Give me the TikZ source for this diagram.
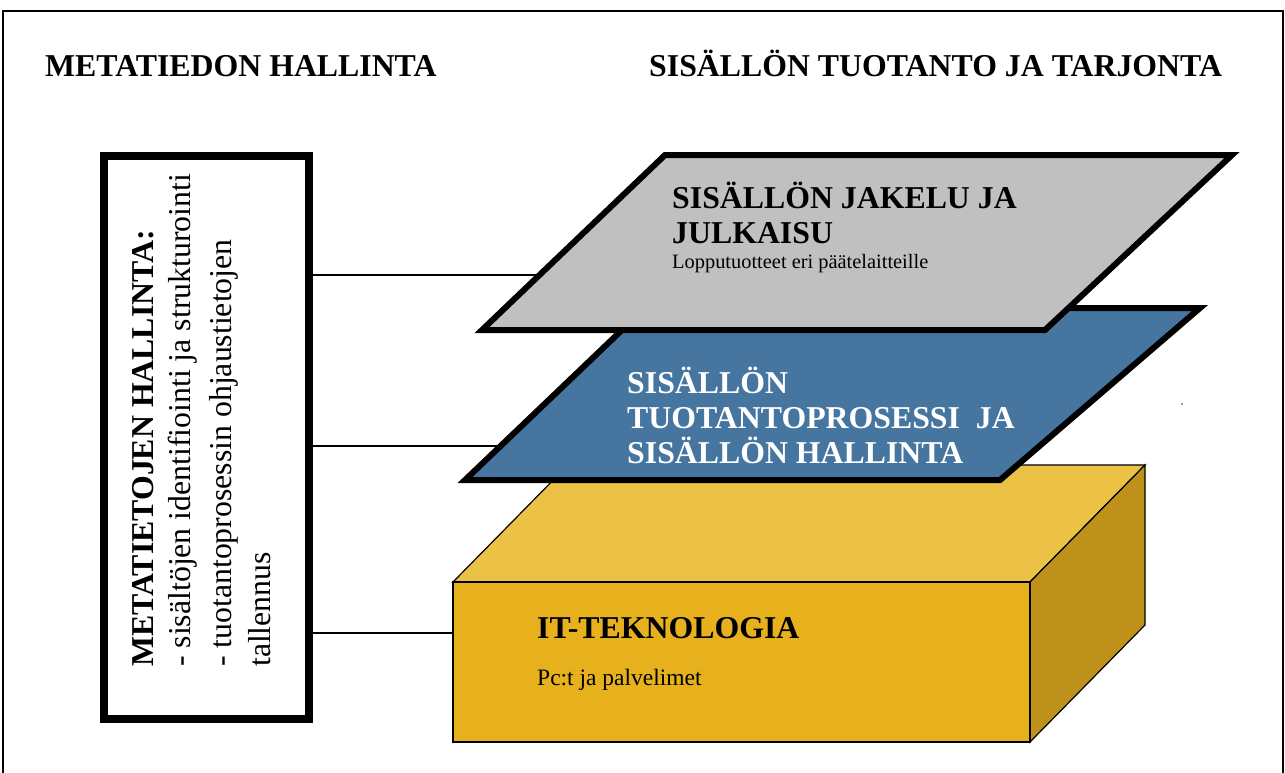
\documentclass[tikz,border=0pt]{standalone}
\usepackage{fontspec}
\setmainfont{Liberation Serif}
\begin{document}
\begin{tikzpicture}[x=1pt,y=-1pt,
  heading/.style={anchor=base west, inner sep=0pt, font=\fontsize{31.8}{35}\selectfont\bfseries},
  small/.style={anchor=base west, inner sep=0pt, font=\fontsize{20.4}{24}\selectfont},
  sidebold/.style={rotate=90, anchor=base west, inner sep=0pt, font=\fontsize{31.8}{35}\selectfont\bfseries},
  sidetext/.style={rotate=90, anchor=base west, inner sep=0pt, font=\fontsize{31.8}{35}\selectfont},
  layer/.style={line width=6pt, line join=miter},
  link/.style={line width=1.3pt}]
\useasboundingbox (0,0) rectangle (1285,772);
\clip (0,0) rectangle (1285,772);

% frame
\draw[line width=2pt] (3,11) rectangle (1283,790);

% column headings
\node[heading] (headL) at (45,76) {METATIEDON HALLINTA};
\node[heading] (headR) at (649,76) {SISÄLLÖN TUOTANTO JA TARJONTA};

% metadata management box
\node[draw, line width=8pt, minimum width=205pt, minimum height=563pt, inner sep=0pt] (meta) at (206.5,437.5) {};
\node[sidebold] (metaA) at (153,667) {METATIETOJEN HALLINTA:};
\node[sidetext] (metaB) at (190,667) {- sisältöjen identifiointi ja strukturointi};
\node[sidetext] (metaC) at (231,667) {- tuotantoprosessin ohjaustietojen};
\node[sidetext] (metaD) at (270,667) {tallennus};

% attachment points on the layers
\coordinate (jEdge) at (539.5,275);
\coordinate (pEdge) at (500.6,446);
\coordinate (iEdge) at (453,633);

% connectors
\draw[link] (meta.east |- jEdge) -- (jEdge);
\draw[link] (meta.east |- pEdge) -- (pEdge);
\draw[link] (meta.east |- iEdge) -- (iEdge);

% IT layer: a solid block
\filldraw[fill={rgb,255:red,236;green,194;blue,70}, line width=1.2pt, line join=miter]
  (453,582) -- (568,465) -- (1145,465) -- (1030,582) -- cycle;
\filldraw[fill={rgb,255:red,190;green,146;blue,26}, line width=1.2pt, line join=miter]
  (1030,582) -- (1145,465) -- (1145,625) -- (1030,742) -- cycle;
\filldraw[fill={rgb,255:red,230;green,177;blue,28}, line width=1.2pt]
  (453,582) rectangle (1030,742);

% production layer
\filldraw[layer, fill={rgb,255:red,70;green,117;blue,160}]
  (645,308) -- (1200,308) -- (1000,480) -- (465,480) -- cycle;

% distribution layer
\filldraw[layer, fill={rgb,255:red,192;green,192;blue,192}]
  (665,155) -- (1232,155) -- (1045,330) -- (482,330) -- cycle;

% layer texts
\node[heading] (jA) at (672,208) {SISÄLLÖN JAKELU JA};
\node[heading] (jB) at (672,243) {JULKAISU};
\node[small] (jC) at (672,268) {Lopputuotteet eri päätelaitteille};

\node[heading, text=white] (pA) at (627,393) {SISÄLLÖN};
\node[heading, text=white] (pB) at (627,428) {TUOTANTOPROSESSI\ \ JA};
\node[heading, text=white] (pC) at (627,463) {SISÄLLÖN HALLINTA};

\node[heading] (iA) at (537,638) {IT-TEKNOLOGIA};
\node[small, font=\fontsize{23.5}{26}\selectfont] (iB) at (537,685) {Pc:t ja palvelimet};

% stray mark
\fill[gray] (1182,404) circle (1.2pt);
\end{tikzpicture}
\end{document}
